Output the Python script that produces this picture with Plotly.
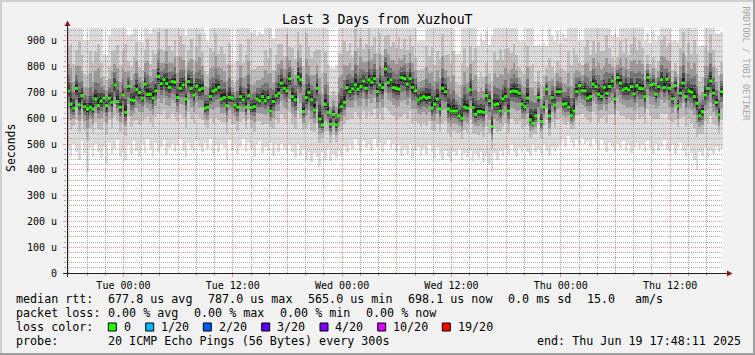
import math
import plotly.graph_objects as go
from datetime import datetime, timedelta

# ---------------- data ----------------
END_TIME = datetime(2025, 6, 19, 17, 48, 11)
SPAN_HOURS = 72

# median RTT per column, microseconds
median_us = [
    706, 654, 639, 716, 652, 688, 645, 636, 643, 635, 674, 649, 667, 678, 649, 678, 662, 729, 665, 643,
    690, 623, 725, 671, 669, 711, 700, 678, 732, 692, 693, 678, 706, 762, 734, 750, 734, 720, 742, 740,
    680, 716, 729, 674, 742, 716, 690, 725, 710, 716, 639, 643, 684, 706, 710, 720, 674, 680, 649, 681,
    678, 652, 643, 684, 671, 643, 688, 641, 645, 674, 668, 684, 668, 680, 628, 665, 688, 697, 736, 716,
    707, 753, 684, 671, 760, 749, 626, 680, 700, 671, 632, 716, 597, 574, 654, 623, 577, 615, 574, 610,
    645, 662, 719, 703, 714, 729, 712, 723, 745, 716, 749, 740, 753, 703, 729, 719, 791, 738, 749, 719,
    716, 712, 758, 753, 732, 753, 720, 707, 671, 678, 684, 678, 681, 639, 654, 674, 636, 716, 703, 636,
    628, 628, 628, 609, 600, 643, 639, 710, 641, 615, 626, 626, 623, 688, 668, 568, 652, 655, 628, 675,
    684, 628, 703, 706, 703, 697, 654, 645, 678, 593, 581, 609, 680, 587, 643, 712, 609, 680, 652, 703,
    703, 654, 656, 643, 610, 628, 703, 727, 707, 706, 678, 684, 732, 723, 693, 684, 720, 697, 723, 745,
    674, 758, 736, 710, 716, 710, 723, 694, 727, 716, 714, 684, 758, 729, 732, 693, 723, 749, 719, 751,
    716, 675, 727, 648, 697, 736, 684, 706, 701, 684, 658, 609, 626, 690, 716, 745, 697, 661, 613, 703,
]

# lowest ping per column, microseconds
low_us = [
    480, 455, 500, 470, 440, 510, 465, 390, 485, 450, 500, 470, 445, 490, 420, 505, 460, 480, 515, 450,
    470, 440, 495, 460, 510, 475, 450, 500, 465, 520, 480, 455, 505, 470, 490, 515, 460, 485, 500, 470,
    495, 520, 475, 450, 505, 480, 465, 510, 490, 470, 505, 480, 520, 460, 495, 470, 500, 485, 440, 515,
    475, 500, 460, 490, 520, 470, 505, 480, 450, 495, 510, 465, 490, 475, 505, 455, 495, 470, 500, 480,
    460, 495, 470, 445, 500, 455, 480, 440, 470, 430, 465, 450, 410, 470, 440, 480, 435, 460, 445, 475,
    455, 490, 470, 500, 480, 520, 495, 470, 510, 485, 500, 475, 520, 490, 505, 470, 495, 515, 480, 500,
    470, 495, 455, 480, 460, 500, 445, 475, 490, 455, 480, 460, 495, 470, 445, 485, 460, 440, 475, 450,
    430, 470, 455, 480, 440, 465, 450, 475, 435, 460, 445, 470, 430, 455, 420, 390, 465, 440, 475, 455,
    480, 460, 495, 470, 450, 485, 465, 490, 470, 455, 495, 470, 480, 460, 500, 475, 455, 490, 470, 485,
    500, 520, 490, 530, 505, 485, 515, 495, 525, 500, 510, 490, 520, 500, 480, 515, 495, 470, 505, 490,
    470, 500, 485, 510, 475, 495, 465, 490, 505, 480, 495, 470, 510, 485, 460, 500, 475, 490, 515, 480,
    470, 495, 460, 485, 505, 475, 450, 490, 465, 440, 400, 470, 455, 485, 445, 475, 460, 490, 470, 480,
]

# highest ping per column, microseconds (values above 950 are clipped by the axis)
high_us = [
    1050, 1120, 980, 1010, 1150, 1000, 900, 905, 1080, 990, 1040, 1130, 960, 850, 845, 920, 1060, 1000, 1100, 970,
    1030, 1150, 920, 925, 1010, 1080, 900, 895, 1000, 1120, 930, 1050, 990, 1110, 1000, 970, 1160, 1040, 980, 1070,
    1000, 1120, 1050, 920, 990, 1100, 960, 1030, 1140, 1000, 930, 900, 1060, 1010, 1150, 980, 1080, 1020, 970, 1100,
    815, 820, 1000, 1090, 960, 1050, 1130, 930, 940, 920, 935, 925, 1060, 990, 1120, 910, 1000, 1080, 1040, 970,
    1150, 1000, 1060, 990, 1110, 1030, 980, 1180, 1050, 1000, 1090, 1020, 1130, 980, 1060, 1000, 800, 795, 805, 1100,
    1050, 1140, 1000, 1080, 960, 1170, 1030, 1100, 990, 1060, 1150, 1020, 1080, 1000, 1130, 970, 1050, 1110, 1000, 1070,
    1030, 1120, 980, 1060, 1000, 1090, 1040, 970, 900, 905, 900, 1080, 1000, 1110, 960, 1050, 1020, 1140, 990, 1060,
    1000, 1090, 850, 855, 1030, 1100, 960, 1050, 1000, 1130, 880, 930, 900, 940, 885, 920, 1060, 1000, 1110, 980,
    1050, 1120, 1000, 1070, 990, 900, 905, 895, 1080, 1010, 1040, 880, 885, 880, 890, 880, 1060, 920, 900, 940,
    890, 930, 910, 1080, 1000, 1120, 990, 900, 905, 1050, 1130, 1010, 1070, 980, 1100, 1040, 1000, 1150, 1020, 920,
    925, 915, 1060, 1000, 1110, 980, 1050, 1140, 1000, 1080, 1030, 900, 930, 890, 940, 900, 920, 1060, 1120, 1000,
    1070, 900, 905, 895, 1050, 1130, 990, 1080, 1000, 1120, 1040, 880, 885, 1060, 1000, 1110, 1030, 930, 925, 935,
]

y_tick_values = [0, 100, 200, 300, 400, 500, 600, 700, 800, 900]
y_tick_labels = ["0", "100 u", "200 u", "300 u", "400 u", "500 u", "600 u", "700 u", "800 u", "900 u"]
x_tick_times = ["2025-06-17 00:00", "2025-06-17 12:00", "2025-06-18 00:00",
                "2025-06-18 12:00", "2025-06-19 00:00", "2025-06-19 12:00"]
x_tick_labels = ["Tue 00:00", "Tue 12:00", "Wed 00:00", "Wed 12:00", "Thu 00:00", "Thu 12:00"]

loss_labels = ["0", "1/20", "2/20", "3/20", "4/20", "10/20", "19/20"]
loss_colors = ["#26ff00", "#00b8ff", "#0059ff", "#5e00ff", "#7e00ff", "#dd00ff", "#ff0000"]

stats_rtt = ["median rtt:", "677.8 us avg", "787.0 us max", "565.0 us min",
             "698.1 us now", "0.0 ms sd", "15.0", "am/s"]
stats_loss = ["packet loss:", "0.00 % avg", "0.00 % max", "0.00 % min", "0.00 % now"]
probe_text = ["probe:", "20 ICMP Echo Pings (56 Bytes) every 300s", "end: Thu Jun 19 17:48:11 2025"]
title_text = "Last 3 Days from XuzhouT"

# ---------------- styling ----------------
W, H = 755, 355
PL, PR, PT, PB = 67, 723, 28, 273      # plot area in pixels
Y_MAX = 950
MONO = "DejaVu Sans Mono"
BAND_FRACS = [1.0, 0.5, 0.3, 0.18, 0.1, 0.05]
BAND_COLORS = ["#dcdcdc", "#bebebe", "#9a9a9a", "#747474", "#4a4a4a", "#222222"]
GRID_MINOR = "rgba(143,143,143,0.75)"
GRID_MAJOR = "rgba(222,79,79,0.6)"


def px(xp):
    return (xp - PL) / (PR - PL)


def py(yp):
    return (PB - yp) / (PB - PT)


start_time = END_TIME - timedelta(hours=SPAN_HOURS)
span = timedelta(hours=SPAN_HOURS)
n = len(median_us)
step = span / n
times = [start_time + step * (i + 0.5) for i in range(n)]
step_ms = step.total_seconds() * 1000


def snap_time(t):
    """move a grid time onto the centre of the pixel column it falls in"""
    xpix = PL + (t - start_time) / span * (PR - PL)
    xs = math.floor(xpix) + 0.5
    return start_time + span * ((xs - PL) / (PR - PL))


def snap_val(v):
    ypix = PB - v / Y_MAX * (PB - PT)
    ys = math.floor(ypix) + 0.5
    return (PB - ys) / (PB - PT) * Y_MAX


fig = go.Figure()

# smoke bands
for f, c in zip(BAND_FRACS, BAND_COLORS):
    lows = [m - f * (m - lo) for m, lo in zip(median_us, low_us)]
    highs = [m + f * (hi - m) for m, hi in zip(median_us, high_us)]
    fig.add_bar(x=times, base=lows, y=[h - l for h, l in zip(highs, lows)],
                width=step_ms, marker=dict(color=c, line=dict(width=0)),
                hoverinfo="skip", showlegend=False)

# grid lines (drawn above the smoke, like rrdtool)
grid_t0 = datetime(2025, 6, 16, 18, 0, 0)
vt = [grid_t0 + timedelta(hours=2 * k) for k in range(36)]
vt = [t for t in vt if t < END_TIME]
minor_v = [t for t in vt if t.hour % 6 != 0]
major_v = [t for t in vt if t.hour % 6 == 0]
minor_h = [v for v in range(20, Y_MAX, 20) if v % 100]
major_h = [v for v in range(100, Y_MAX, 100)]


def vlines(ts):
    xs, ys = [], []
    for t in ts:
        ts_ = snap_time(t)
        xs += [ts_, ts_, None]
        ys += [0, Y_MAX, None]
    return xs, ys


def hlines(vs):
    xs, ys = [], []
    for v in vs:
        vv = snap_val(v)
        xs += [start_time, END_TIME, None]
        ys += [vv, vv, None]
    return xs, ys


for (xs, ys), col in [(hlines(minor_h), GRID_MINOR), (vlines(minor_v), GRID_MINOR),
                      (hlines(major_h), GRID_MAJOR), (vlines(major_v), GRID_MAJOR)]:
    fig.add_scatter(x=xs, y=ys, mode="lines", line=dict(color=col, width=1, dash="1px,1px"),
                    hoverinfo="skip", showlegend=False, connectgaps=False)

# median
fig.add_scatter(x=times, y=median_us, mode="markers",
                marker=dict(symbol="square", size=3, color=loss_colors[0], line=dict(width=0)),
                hoverinfo="skip", showlegend=False)

shapes = []
# frame shading
shapes.append(dict(type="rect", xref="paper", yref="paper", x0=px(0), x1=px(W), y0=py(0), y1=py(2),
                   fillcolor="#cfcfcf", line=dict(width=0), layer="above"))
shapes.append(dict(type="rect", xref="paper", yref="paper", x0=px(0), x1=px(2), y0=py(0), y1=py(H),
                   fillcolor="#cfcfcf", line=dict(width=0), layer="above"))
shapes.append(dict(type="rect", xref="paper", yref="paper", x0=px(W - 2), x1=px(W), y0=py(0), y1=py(H),
                   fillcolor="#9e9e9e", line=dict(width=0), layer="above"))
shapes.append(dict(type="rect", xref="paper", yref="paper", x0=px(0), x1=px(W), y0=py(H - 2), y1=py(H),
                   fillcolor="#9e9e9e", line=dict(width=0), layer="above"))
# axes
shapes.append(dict(type="line", xref="paper", yref="paper", x0=px(63), x1=px(727), y0=py(273.5), y1=py(273.5),
                   line=dict(color="#1f1f1f", width=1), layer="above"))
shapes.append(dict(type="line", xref="paper", yref="paper", x0=px(67.5), x1=px(67.5), y0=py(277), y1=py(25),
                   line=dict(color="#1f1f1f", width=1), layer="above"))
# arrows
shapes.append(dict(type="path", xref="paper", yref="paper",
                   path="M %f %f L %f %f L %f %f Z" % (px(67.5), py(20.5), px(64.5), py(26), px(70.5), py(26)),
                   fillcolor="#801f1f", line=dict(width=0), layer="above"))
shapes.append(dict(type="path", xref="paper", yref="paper",
                   path="M %f %f L %f %f L %f %f Z" % (px(732.5), py(273.5), px(727), py(270.5), px(727), py(276.5)),
                   fillcolor="#801f1f", line=dict(width=0), layer="above"))

# loss colour swatches
swatch_x = [108.3, 145.7, 203.3, 261.7, 320.0, 377.7, 442.3]
label_x = [123.3, 161.0, 218.3, 276.7, 334.3, 392.7, 457.3]
for sx, c in zip(swatch_x, loss_colors):
    shapes.append(dict(type="rect", xref="paper", yref="paper", x0=px(sx), x1=px(sx + 8),
                       y0=py(323), y1=py(331), fillcolor=c, line=dict(color="black", width=1), layer="above"))

annotations = []


def ann(text, x, y, size=11.7, xanchor="left", angle=0, color="black"):
    annotations.append(dict(text=text, x=px(x), y=py(y), xref="paper", yref="paper",
                            xanchor=xanchor, yanchor="middle", showarrow=False, borderpad=0,
                            textangle=angle, font=dict(family=MONO, size=size, color=color)))


ann(title_text, 377.5, 19.4, size=13.2, xanchor="center")
ann("Seconds", 10.5, 148.5, size=11.5, xanchor="center", angle=-90)
ann("RRDTOOL / TOBI OETIKER", 745.5, 64, size=8.6, xanchor="center", angle=90, color="#a8a8a8")

rtt_x = [16, 107.3, 207.3, 307.3, 407.3, 507.7, 586.7, 635]
for t, x in zip(stats_rtt, rtt_x):
    ann(t, x - 0.7, 299.2)
loss_x = [16, 107.3, 193.3, 279.3, 365.3]
for t, x in zip(stats_loss, loss_x):
    ann(t, x - 0.7, 313.2)
ann("loss color:", 16 - 0.7, 327)
for t, x in zip(loss_labels, label_x):
    ann(t, x - 0.7, 327)
for t, x in zip(probe_text, [16, 107.3, 536.7]):
    ann(t, x - 0.7, 341)

fig.update_layout(
    width=W, height=H,
    margin=dict(l=PL, r=W - PR, t=PT, b=H - PB, pad=0),
    paper_bgcolor="#f2f2f2", plot_bgcolor="#ffffff",
    barmode="overlay", bargap=0,
    showlegend=False,
    font=dict(family=MONO, size=10, color="black"),
    shapes=shapes, annotations=annotations,
    xaxis=dict(type="date", range=[start_time, END_TIME], showgrid=False, zeroline=False, showline=False,
               tickvals=x_tick_times, ticktext=x_tick_labels, ticks="outside", ticklen=3,
               tickcolor=GRID_MAJOR, tickfont=dict(family=MONO, size=10, color="black"),
               minor=dict(tickvals=minor_v, ticks="outside", ticklen=2, tickcolor=GRID_MINOR, showgrid=False),
               fixedrange=True),
    yaxis=dict(range=[0, Y_MAX], showgrid=False, zeroline=False, showline=False,
               tickvals=y_tick_values, ticktext=y_tick_labels, ticks="outside", ticklen=3,
               tickcolor=GRID_MAJOR, tickfont=dict(family=MONO, size=10, color="black"),
               minor=dict(tickvals=minor_h, ticks="outside", ticklen=2, tickcolor=GRID_MINOR, showgrid=False),
               ticklabelstandoff=4, fixedrange=True),
)

fig.write_html("out.html")
